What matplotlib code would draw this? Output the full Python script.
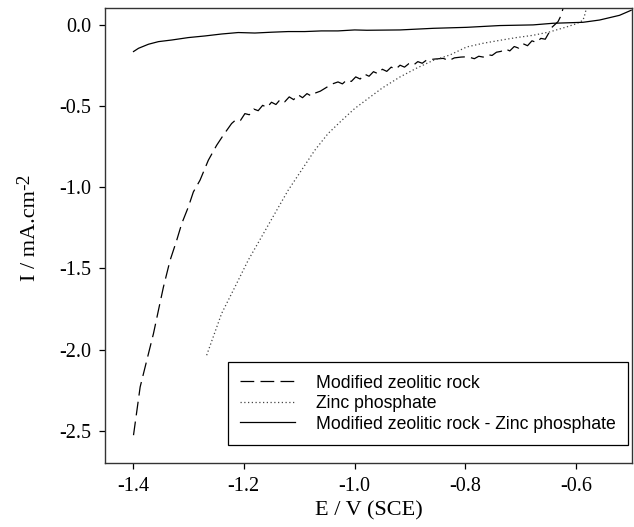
import matplotlib
matplotlib.use("Agg")
import matplotlib.pyplot as plt

# values (the zeolitic curve is noisy)
zeo_E = [-1.399, -1.387, -1.375, -1.363, -1.354, -1.345, -1.333, -1.321, -1.312,
         -1.300, -1.291, -1.279, -1.264, -1.249, -1.237, -1.222, -1.214, -1.206,
         -1.198, -1.190, -1.182, -1.174, -1.166, -1.158, -1.150, -1.142, -1.134,
         -1.126, -1.118, -1.110, -1.102, -1.094, -1.086, -1.078, -1.070, -1.062,
         -1.050, -1.040, -1.030, -1.022, -1.014, -1.006, -0.998, -0.990, -0.982,
         -0.974, -0.966, -0.958, -0.950, -0.942, -0.934, -0.926, -0.918, -0.910,
         -0.902, -0.894, -0.886, -0.878, -0.870, -0.855, -0.840, -0.830, -0.820,
         -0.808, -0.796, -0.784, -0.776, -0.768, -0.760, -0.752, -0.744, -0.736,
         -0.728, -0.720, -0.712, -0.704, -0.696, -0.688, -0.680, -0.672, -0.664,
         -0.656, -0.650, -0.645, -0.633, -0.627, -0.624]
zeo_I = [-2.527, -2.230, -2.066, -1.902, -1.758, -1.615, -1.451, -1.327, -1.225,
         -1.122, -1.030, -0.958, -0.835, -0.743, -0.681, -0.609, -0.585, -0.590,
         -0.548, -0.555, -0.520, -0.530, -0.497, -0.510, -0.478, -0.492, -0.460,
         -0.475, -0.445, -0.462, -0.432, -0.450, -0.425, -0.440, -0.420, -0.410,
         -0.385, -0.365, -0.353, -0.365, -0.340, -0.350, -0.322, -0.335, -0.305,
         -0.318, -0.290, -0.302, -0.275, -0.288, -0.262, -0.275, -0.250, -0.262,
         -0.240, -0.250, -0.228, -0.238, -0.218, -0.212, -0.208, -0.222, -0.205,
         -0.200, -0.198, -0.210, -0.195, -0.200, -0.185, -0.190, -0.170, -0.165,
         -0.150, -0.162, -0.135, -0.145, -0.118, -0.130, -0.100, -0.110, -0.085,
         -0.090, -0.054, -0.020, 0.018, 0.059, 0.100]

zn_E = [-1.267, -1.240, -1.216, -1.192, -1.168, -1.144, -1.120, -1.096, -1.072,
        -1.048, -1.023, -1.000, -0.980, -0.950, -0.918, -0.888, -0.858, -0.828,
        -0.798, -0.768, -0.738, -0.708, -0.678, -0.648, -0.618, -0.600, -0.588,
        -0.584, -0.582]
zn_I = [-2.035, -1.778, -1.615, -1.450, -1.307, -1.163, -1.020, -0.897, -0.774,
        -0.671, -0.589, -0.517, -0.466, -0.390, -0.322, -0.268, -0.220, -0.187,
        -0.138, -0.115, -0.097, -0.080, -0.066, -0.045, -0.015, 0.005, 0.026,
        0.068, 0.100]

mix_E = [-1.399, -1.390, -1.372, -1.354, -1.330, -1.300, -1.270, -1.240, -1.210,
         -1.180, -1.150, -1.120, -1.090, -1.060, -1.030, -1.000, -0.978, -0.918,
         -0.858, -0.798, -0.738, -0.678, -0.642, -0.588, -0.558, -0.522, -0.501]
mix_I = [-0.166, -0.146, -0.121, -0.105, -0.095, -0.080, -0.070, -0.058, -0.049,
         -0.052, -0.047, -0.043, -0.043, -0.039, -0.039, -0.033, -0.035, -0.033,
         -0.023, -0.017, -0.006, -0.002, 0.008, 0.014, 0.028, 0.057, 0.088]

labels = ['Modified zeolitic rock', 'Zinc phosphate',
          'Modified zeolitic rock - Zinc phosphate']
x_ticks = [-1.4, -1.2, -1.0, -0.8, -0.6]
y_ticks = [0.0, -0.5, -1.0, -1.5, -2.0, -2.5]

plt.rcParams['axes.unicode_minus'] = False
plt.rcParams['font.family'] = ['Liberation Serif', 'DejaVu Serif']

fig = plt.figure(figsize=(6.34, 5.27), dpi=100)
fig.subplots_adjust(left=0.166, right=0.9964, top=0.9842, bottom=0.1209)
ax = fig.add_subplot(111)

ax.plot(zeo_E, zeo_I, color='black', lw=0.9, dashes=(11, 5), label=labels[0])
ax.plot(zn_E, zn_I, color='#444444', lw=0.9, linestyle=(0, (1, 2)), label=labels[1])
ax.plot(mix_E, mix_I, color='black', lw=0.9, label=labels[2])

ax.set_xlim(-1.45, -0.5)
ax.set_ylim(-2.7, 0.1)
ax.set_xticks(x_ticks)
ax.set_xticklabels(['%.1f' % v for v in x_ticks])
ax.set_yticks(y_ticks)
ax.set_yticklabels(['%.1f' % v for v in y_ticks])
ax.tick_params(direction='out', length=4, width=0.9, labelsize=14.5, pad=6,
               top=False, right=False)
for s in ax.spines.values():
    s.set_color('#333333')
    s.set_linewidth(1.0)

ax.set_xlabel('E / V (SCE)', fontsize=16, labelpad=4)
ax.set_ylabel('I / mA.cm', fontsize=16, labelpad=14)
# big raised "-2" exponent, as in the original
ax.annotate('-2', xy=(0, 1), xycoords=ax.yaxis.label, xytext=(-3, 0),
            textcoords='offset points', rotation=90, ha='left', va='bottom',
            fontsize=14, annotation_clip=False)

leg = ax.legend(loc='lower right', bbox_to_anchor=(0.9935, 0.0402),
                borderaxespad=0, fancybox=False, framealpha=1,
                edgecolor='black', handlelength=3.1, handletextpad=1.2,
                labelspacing=0.2, borderpad=0.7,
                prop={'family': 'Liberation Sans', 'size': 12.7})
leg.get_frame().set_linewidth(0.9)

fig.savefig('out.png', dpi=100)
